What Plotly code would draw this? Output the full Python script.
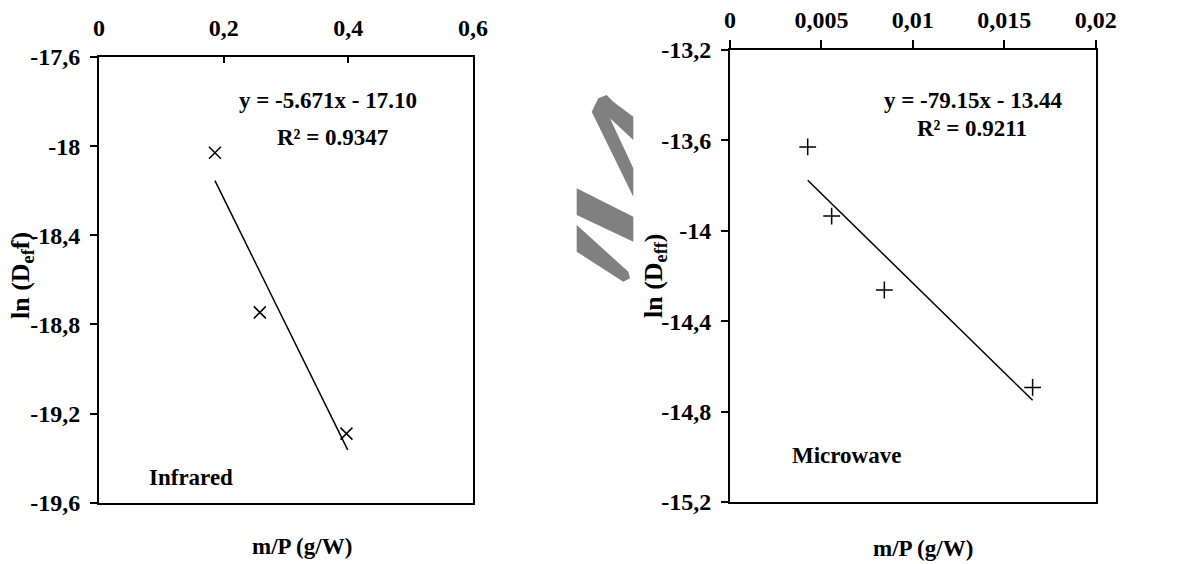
import plotly.graph_objects as go

W, H = 1195, 564

# ---------------- data ----------------
ir_x = [0.186, 0.258, 0.397]
ir_y = [-18.03, -18.746, -19.29]
ir_slope, ir_intercept = -5.671, -17.10
ir_fit_x = [0.186, 0.399]

mw_x = [0.00425, 0.00556, 0.00844, 0.01655]
mw_y = [-13.629, -13.935, -14.262, -14.693]
mw_slope, mw_intercept = -79.15, -13.44
mw_fit_x = [0.00425, 0.01655]

ir_xticks = [0, 0.2, 0.4, 0.6]
ir_xticktext = ["0", "0,2", "0,4", "0,6"]
ir_yticks = [-17.6, -18, -18.4, -18.8, -19.2, -19.6]
ir_yticktext = ["-17,6", "-18", "-18,4", "-18,8", "-19,2", "-19,6"]

mw_xticks = [0, 0.005, 0.01, 0.015, 0.02]
mw_xticktext = ["0", "0,005", "0,01", "0,015", "0,02"]
mw_yticks = [-13.2, -13.6, -14, -14.4, -14.8, -15.2]
mw_yticktext = ["-13,2", "-13,6", "-14", "-14,4", "-14,8", "-15,2"]

FONT = "Liberation Serif"


def px(x):
    return x / W


def py(y):
    return 1 - y / H


fig = go.Figure()

# Infrared
fig.add_trace(go.Scatter(
    x=ir_x, y=ir_y, mode="markers", xaxis="x", yaxis="y",
    marker=dict(symbol="x-thin", size=12, line=dict(color="black", width=1.5), color="black"),
    showlegend=False, hoverinfo="skip"))
fig.add_trace(go.Scatter(
    x=ir_fit_x, y=[ir_slope * v + ir_intercept for v in ir_fit_x], mode="lines",
    xaxis="x", yaxis="y", line=dict(color="black", width=1.5), showlegend=False))

# Microwave
fig.add_trace(go.Scatter(
    x=mw_x, y=mw_y, mode="markers", xaxis="x2", yaxis="y2",
    marker=dict(symbol="cross-thin", size=12, line=dict(color="black", width=1.5), color="black"),
    showlegend=False, hoverinfo="skip"))
fig.add_trace(go.Scatter(
    x=mw_fit_x, y=[mw_slope * v + mw_intercept for v in mw_fit_x], mode="lines",
    xaxis="x2", yaxis="y2", line=dict(color="black", width=1.5), showlegend=False))

tickfont = dict(family=FONT, size=24, color="black", weight="bold")
axcommon = dict(showgrid=False, zeroline=False, showline=True, linecolor="black",
                linewidth=2, mirror=True, tickfont=tickfont, tickcolor="black", tickwidth=2,
                automargin=False)

fig.update_layout(
    template="none",
    width=W, height=H, margin=dict(l=0, r=0, t=0, b=0, pad=0),
    paper_bgcolor="white", plot_bgcolor="white",
    font=dict(family=FONT, color="black"),
    xaxis=dict(domain=[px(99), px(473)], range=[0, 0.6], side="top", anchor="y",
               tickvals=ir_xticks, ticktext=ir_xticktext, ticks="inside", ticklen=6,
               ticklabelstandoff=9, **axcommon),
    yaxis=dict(domain=[py(502.7), py(57)], range=[-19.6, -17.6], anchor="x",
               tickvals=ir_yticks, ticktext=ir_yticktext, ticks="outside", ticklen=7,
               ticklabelstandoff=5, **axcommon),
    xaxis2=dict(domain=[px(730), px(1095.7)], range=[0, 0.02], side="top", anchor="y2",
                tickvals=mw_xticks, ticktext=mw_xticktext, ticks="outside", ticklen=8,
                ticklabelstandoff=2, **axcommon),
    yaxis2=dict(domain=[py(502), py(50)], range=[-15.2, -13.2], anchor="x2",
                tickvals=mw_yticks, ticktext=mw_yticktext, ticks="outside", ticklen=7,
                ticklabelstandoff=5, **axcommon),
)

annots = [
    ("y = -5.671x - 17.10", 328.3, 100, "center", 0, 23),
    ("R² = 0.9347", 332.5, 137, "center", 0, 23),
    ("Infrared", 147, 477, "left", 0, 23),
    ("m/P (g/W)", 301.7, 546, "center", 0, 23),
    ("ln (D<sub>ef</sub>f)", 22, 276, "center", -90, 26),
    ("y = -79.15x - 13.44", 973.3, 100, "center", 0, 23),
    ("R² = 0.9211", 971.7, 128, "center", 0, 23),
    ("Microwave", 790, 456, "left", 0, 23),
    ("m/P (g/W)", 923.3, 548, "center", 0, 23),
    ("ln (D<sub>eff</sub>)", 655, 276, "center", -90, 26),
]
for text, x, y, xa, ang, fs in annots:
    fig.add_annotation(text=text, x=px(x), y=py(y), xref="paper", yref="paper",
                       xanchor=xa, yanchor="middle", showarrow=False,
                       font=dict(family=FONT, size=fs, color="black", weight="bold"),
                       textangle=ang)

# decorative grey watermark strokes between the panels
def path(points):
    s = "M " + " L ".join(f"{px(a)},{py(b)}" for a, b in points) + " Z"
    return s

grey = "#808080"
shapes_pts = [
    [(591.7, 111.7), (598.3, 98.3), (606.7, 95), (613.3, 101.7), (633.3, 116.7),
     (633.3, 140), (610, 118.3), (633.3, 168.3), (633.3, 196.7)],
    [(576.7, 188.3), (633.3, 216.7), (633.3, 241.7), (576.7, 215)],
    [(576.7, 225), (628.3, 271.7), (630, 278.3), (623.3, 281.7), (576.7, 251.7)],
]
for pts in shapes_pts:
    fig.add_shape(type="path", path=path(pts), xref="paper", yref="paper",
                  fillcolor=grey, line=dict(width=0), layer="above")

fig.write_html("out.html")
